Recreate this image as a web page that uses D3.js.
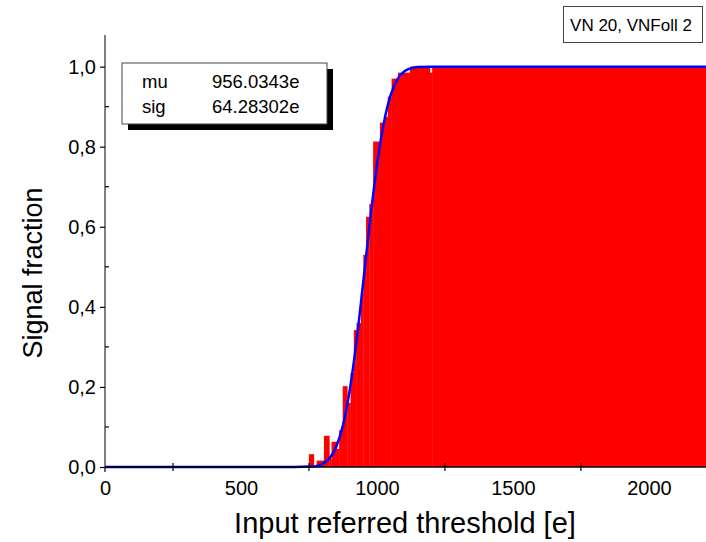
<!DOCTYPE html>
<html>
<head>
<meta charset="utf-8">
<script src="https://cdn.jsdelivr.net/npm/d3@7"></script>
<style>
  body { margin: 0; background: #fff; }
  svg { display: block; font-family: "Liberation Sans", Arial, sans-serif; }
</style>
</head>
<body>
<div id="chart"></div>
<script>
// measured fraction per threshold step (left edge of each step, in e)
const stepStart = [750, 768, 778, 805, 825, 833, 852, 861, 874, 891, 903, 915, 925, 941, 950,
                   960, 972, 986, 1011, 1029, 1040, 1054, 1077, 1121, 1195, 1203];
const signalFraction = [0.032, 0, 0.016, 0.078, 0.02, 0.063, 0.045, 0.092, 0.202, 0.16, 0.235, 0.342, 0.36, 0.435, 0.53,
                        0.625, 0.657, 0.813, 0.86, 0.875, 0.925, 0.97, 0.985, 1.0, 0.985, 1.0];

// fitted curve
const fitX = [0, 700, 750, 775, 800, 825, 850, 875, 900, 925, 950, 975, 1000, 1025, 1050, 1075, 1100, 1125, 1150, 1200, 2210];
const fitY = [0, 0, 0.001, 0.002, 0.008, 0.021, 0.05, 0.104, 0.192, 0.315, 0.464, 0.617, 0.753, 0.858, 0.928, 0.968, 0.988, 0.996, 0.999, 1.0, 1.0];

const yTicks = [0, 0.2, 0.4, 0.6, 0.8, 1.0];
const yMinor = [0.1, 0.3, 0.5, 0.7, 0.9];
const xTicks = [0, 500, 1000, 1500, 2000];
const xMinor = [250, 750, 1250, 1750];

const fitParams = [["mu", "956.0343e"], ["sig", "64.28302e"]];
const title = "VN 20, VNFoll 2";

const W = 706, H = 542;
const xMax = 2210;

const svg = d3.select("#chart").append("svg")
    .attr("width", W)
    .attr("height", H);

const x = d3.scaleLinear().domain([0, xMax]).range([105, 706]);
const y = d3.scaleLinear().domain([0, 1.079]).range([467, 35]);

// bars
const bars = stepStart.map((s, i) => ({
    x0: s,
    x1: i < stepStart.length - 1 ? stepStart[i + 1] : xMax,
    v: signalFraction[i]
}));

svg.append("g")
    .selectAll("rect")
    .data(bars)
    .join("rect")
    .attr("x", d => x(d.x0))
    .attr("width", d => x(d.x1) - x(d.x0) + 0.3)
    .attr("y", d => y(d.v))
    .attr("height", d => y(0) - y(d.v))
    .attr("fill", "#ff0000");

// fit line
const fitPts = fitX.map((v, i) => [v, fitY[i]]);
svg.append("path")
    .datum(fitPts)
    .attr("fill", "none")
    .attr("stroke", "#0000ff")
    .attr("stroke-width", 2.5)
    .attr("d", d3.line()
        .x(d => x(d[0]))
        .y(d => y(d[1]))
        .curve(d3.curveMonotoneX));

// y axis
const yAxis = svg.append("g").attr("transform", "translate(105,0)");
yAxis.call(d3.axisLeft(y).tickValues(yTicks).tickSize(5).tickPadding(4)
    .tickFormat(d => d3.format(".1f")(d).replace(".", ",")));
yAxis.select(".domain").attr("d", "M0," + y(1.079) + "V" + y(0));
yAxis.selectAll("text").attr("font-size", 20).attr("font-family", "Liberation Sans, Arial, sans-serif");
yAxis.selectAll("line").attr("stroke-width", 1.2);
yAxis.selectAll(".minor")
    .data(yMinor)
    .join("line")
    .attr("class", "minor")
    .attr("x1", 0).attr("x2", 4)
    .attr("y1", d => y(d)).attr("y2", d => y(d))
    .attr("stroke", "#000").attr("stroke-width", 1.2);

// x axis
const xAxis = svg.append("g").attr("transform", "translate(0,467)");
xAxis.call(d3.axisBottom(x).tickValues(xTicks).tickSize(0).tickPadding(14)
    .tickFormat(d3.format("d")));
xAxis.select(".domain").attr("d", "M105,0H706").attr("stroke-width", 1.5);
xAxis.selectAll("text").attr("font-size", 20).attr("font-family", "Liberation Sans, Arial, sans-serif");
xAxis.append("line")
    .attr("x1", x(0)).attr("x2", x(0))
    .attr("y1", 0).attr("y2", 5)
    .attr("stroke", "#000").attr("stroke-width", 1.2);
xAxis.selectAll(".minor")
    .data(xMinor)
    .join("line")
    .attr("class", "minor")
    .attr("x1", d => x(d)).attr("x2", d => x(d))
    .attr("y1", -4).attr("y2", 4)
    .attr("stroke", "#000").attr("stroke-width", 1.2);

// axis titles
svg.append("text")
    .attr("transform", "translate(42,273) rotate(-90)")
    .attr("text-anchor", "middle")
    .attr("font-size", 27)
    .text("Signal fraction");

svg.append("text")
    .attr("x", 405)
    .attr("y", 533)
    .attr("text-anchor", "middle")
    .attr("font-size", 29)
    .text("Input referred threshold [e]");

// fit parameter box with shadow
const box = svg.append("g");
box.append("rect")
    .attr("x", 128).attr("y", 69).attr("width", 205).attr("height", 61)
    .attr("fill", "#000");
box.append("rect")
    .attr("x", 122).attr("y", 63).attr("width", 205).attr("height", 61)
    .attr("fill", "#fff").attr("stroke", "#444").attr("stroke-width", 1);
box.selectAll(".pname")
    .data(fitParams)
    .join("text")
    .attr("x", 142)
    .attr("y", (d, i) => 88 + i * 25)
    .attr("font-size", 18.5)
    .text(d => d[0]);
box.selectAll(".pval")
    .data(fitParams)
    .join("text")
    .attr("x", 212)
    .attr("y", (d, i) => 88 + i * 25)
    .attr("font-size", 18.5)
    .text(d => d[1]);

// title box
svg.append("rect")
    .attr("x", 563.5).attr("y", 6.5).attr("width", 139).attr("height", 36)
    .attr("fill", "#fff").attr("stroke", "#444").attr("stroke-width", 1);
svg.append("text")
    .attr("x", 631)
    .attr("y", 31)
    .attr("text-anchor", "middle")
    .attr("font-size", 17)
    .text(title);
</script>
</body>
</html>
